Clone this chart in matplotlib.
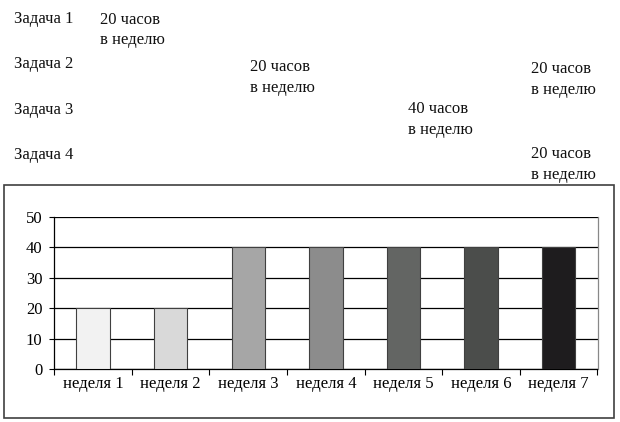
import matplotlib
matplotlib.use("Agg")
import matplotlib.pyplot as plt
from matplotlib.patches import Rectangle

plt.rcParams['font.family'] = ['Liberation Serif', 'DejaVu Serif']

# ---- data ----
weeks = ["неделя 1", "неделя 2", "неделя 3", "неделя 4", "неделя 5", "неделя 6", "неделя 7"]
hours = [20, 20, 40, 40, 40, 40, 40]
bar_colors = ["#f2f2f2", "#d9d9d9", "#a6a6a6", "#8c8c8c", "#636563", "#4b4d4b", "#1e1c1e"]
y_ticks = [0, 10, 20, 30, 40, 50]

tasks = ["Задача 1", "Задача 2", "Задача 3", "Задача 4"]
task_notes = [
    ["20 часов\nв неделю"],
    ["20 часов\nв неделю", "20 часов\nв неделю"],
    ["40 часов\nв неделю"],
    ["20 часов\nв неделю"],
]

W, H = 620, 422
fig = plt.figure(figsize=(W / 100, H / 100), dpi=100)

def px(x, y):
    return x / W, 1 - y / H

# ---- top schedule text ----
task_baselines = [23, 68, 114, 159]
note_pos = [[(100, 24)], [(250, 71), (531, 73)], [(408, 113)], [(531, 158)]]
line_gap = 20.5
for t, base, notes, poss in zip(tasks, task_baselines, task_notes, note_pos):
    fig.text(*px(14, base), t, fontsize=12, va='baseline', ha='left', color='#111111')
    for note, (x, y) in zip(notes, poss):
        for i, line in enumerate(note.split("\n")):
            fig.text(*px(x, y + i * line_gap), line, fontsize=12, va='baseline',
                     ha='left', color='#111111')

# ---- outer chart frame ----
fx0, fy0 = px(4, 418)
fx1, fy1 = px(614, 185)
fig.patches.append(Rectangle((fx0, fy0), fx1 - fx0, fy1 - fy0, transform=fig.transFigure,
                             fill=False, edgecolor='#404040', linewidth=1.2))

# ---- bar chart ----
l, b = px(54.2, 369)
r, t = px(597.5, 217)
ax = fig.add_axes([l, b, r - l, t - b])
x = list(range(len(weeks)))
ax.bar(x, hours, width=0.43, color=bar_colors, edgecolor='#404040', linewidth=0.8, zorder=3)
ax.set_xlim(-0.5, len(weeks) - 0.5)
ax.set_ylim(0, 50)
ax.set_yticks(y_ticks)
ax.set_yticklabels([str(v) for v in y_ticks], fontsize=12)
ax.yaxis.grid(True, color='#000000', linewidth=0.9)
ax.set_axisbelow(True)

ax.set_xticks(x)
ax.set_xticklabels(weeks, fontsize=12)
ax.set_xticks([i - 0.5 for i in range(len(weeks) + 1)], minor=True)
ax.tick_params(axis='x', which='major', length=0, pad=5)
ax.tick_params(axis='x', which='minor', length=4, width=0.8, color='#000000')
ax.tick_params(axis='y', length=3.5, width=0.8, pad=5, color='#000000')

ax.spines['top'].set_visible(False)
ax.spines['right'].set_color('#888888')
ax.spines['left'].set_color('#000000')
ax.spines['bottom'].set_color('#000000')
for s in ax.spines.values():
    s.set_linewidth(0.9)

fig.savefig("out.png", dpi=100)
